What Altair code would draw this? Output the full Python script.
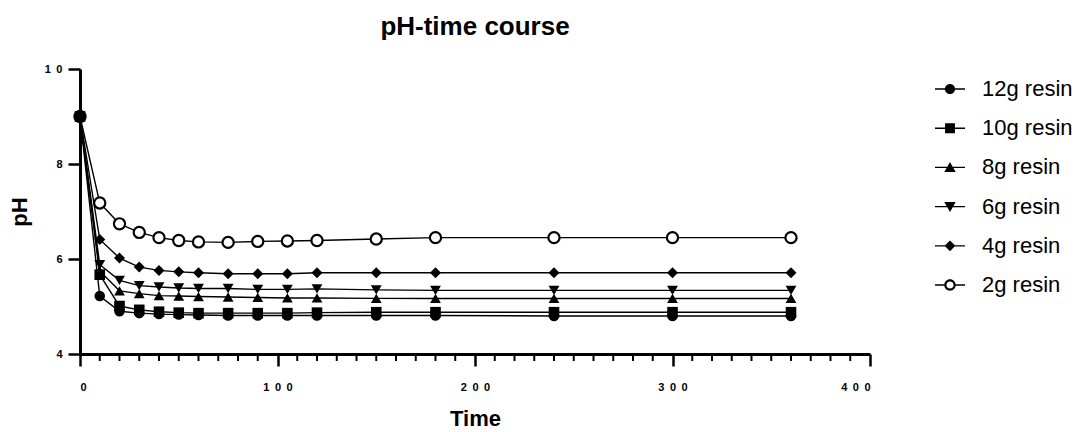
import altair as alt
import pandas as pd

FONT = "Liberation Sans"

time = [0, 10, 20, 30, 40, 50, 60, 75, 90, 105, 120, 150, 180, 240, 300, 360]
series_names = ["12g resin", "10g resin", "8g resin", "6g resin", "4g resin", "2g resin"]

ph_12g = [9.0, 5.22, 4.90, 4.86, 4.84, 4.83, 4.82, 4.81, 4.81, 4.81, 4.81, 4.81, 4.81, 4.80, 4.80, 4.80]
ph_10g = [9.0, 5.67, 5.01, 4.93, 4.89, 4.87, 4.86, 4.86, 4.86, 4.86, 4.87, 4.88, 4.88, 4.88, 4.88, 4.88]
ph_8g = [9.0, 5.75, 5.33, 5.27, 5.23, 5.22, 5.21, 5.20, 5.19, 5.18, 5.18, 5.17, 5.17, 5.17, 5.17, 5.17]
ph_6g = [9.0, 5.88, 5.55, 5.44, 5.41, 5.39, 5.38, 5.38, 5.36, 5.36, 5.37, 5.35, 5.34, 5.34, 5.34, 5.34]
ph_4g = [9.0, 6.41, 6.02, 5.83, 5.76, 5.73, 5.71, 5.69, 5.69, 5.69, 5.71, 5.71, 5.71, 5.71, 5.71, 5.71]
ph_2g = [9.0, 7.18, 6.74, 6.56, 6.45, 6.39, 6.36, 6.35, 6.37, 6.38, 6.39, 6.42, 6.45, 6.45, 6.45, 6.45]

x_major_ticks = [0, 100, 200, 300, 400]
x_minor_ticks = [v for v in range(10, 400, 10) if v % 100 != 0]
y_ticks = [4, 6, 8, 10]
y_min = 4
minor_tick_end = 3.853  # minor tick length expressed in pH units below the axis

# marker styles for the filled series
filled_names = ["12g resin", "10g resin", "8g resin", "6g resin", "4g resin"]
filled_shapes = ["circle", "square", "triangle-up", "triangle-down", "diamond"]
filled_sizes = [110, 120, 170, 170, 120]

# legend symbols: line segment + marker, in the [-1, 1] box
seg = "M-1,-0.045H1V0.045H-1Z"
legend_paths = [
    seg + "M0.34,0A0.34,0.34 0 1,1 -0.34,0A0.34,0.34 0 1,1 0.34,0Z",
    seg + "M-0.33,-0.33H0.33V0.33H-0.33Z",
    seg + "M0,-0.36L0.38,0.3L-0.38,0.3Z",
    seg + "M-0.38,-0.3L0.38,-0.3L0,0.36Z",
    seg + "M0,-0.36L0.36,0L0,0.36L-0.36,0Z",
    "M-1,-0.045H-0.34V0.045H-1Z M0.34,-0.045H1V0.045H0.34Z"
    "M0.38,0A0.38,0.38 0 1,1 -0.38,0A0.38,0.38 0 1,1 0.38,0Z"
    "M0.24,0A0.24,0.24 0 1,0 -0.24,0A0.24,0.24 0 1,0 0.24,0Z",
]

rows = []
for name, vals in zip(series_names, [ph_12g, ph_10g, ph_8g, ph_6g, ph_4g, ph_2g]):
    for t, v in zip(time, vals):
        rows.append({"series": name, "time": t, "pH": v})
df = pd.DataFrame(rows)
minor_df = pd.DataFrame({"time": x_minor_ticks, "lo": y_min, "hi": minor_tick_end})

spaced = "join(split(datum.label, ''), '\u2002')"

x_scale = alt.Scale(domain=[0, 400], nice=False, zero=False)
y_scale = alt.Scale(domain=[4, 10], nice=False, zero=False)

y_axis = alt.Axis(
    values=y_ticks, tickSize=12, tickWidth=2.5, domainWidth=3,
    domainColor="black", tickColor="black", labelColor="black", labelFont=FONT,
    labelFontSize=11, labelFontWeight="bold", labelPadding=6, labelExpr=spaced,
    grid=False, title="pH", titleFont=FONT, titleFontSize=22, titleFontWeight="bold",
    titleColor="black", titlePadding=13,
)

x_axis = alt.Axis(
    values=x_major_ticks, tickSize=12, tickWidth=2.5,
    domainWidth=3, domainColor="black", tickColor="black", labelColor="black",
    labelFont=FONT, labelFontSize=11, labelFontWeight="bold", labelPadding=15,
    labelExpr=spaced, grid=False, title="Time", titleFont=FONT, titleFontSize=22,
    titleFontWeight="bold", titleColor="black", titlePadding=16,
)

base = alt.Chart(df)
enc_x = alt.X("time:Q", scale=x_scale, axis=x_axis)
enc_y = alt.Y("pH:Q", scale=y_scale, axis=y_axis)

minor_ticks = alt.Chart(minor_df).mark_rule(color="black", strokeWidth=2).encode(
    x=enc_x,
    y=alt.Y("lo:Q", scale=y_scale, axis=y_axis),
    y2="hi:Q",
)

lines = base.mark_line(color="black", strokeWidth=1.4).encode(
    x=enc_x, y=enc_y, detail="series:N",
)

open_points = base.transform_filter("datum.series == '2g resin'").mark_point(
    shape="circle", size=125, filled=False, fill="white", stroke="black",
    strokeWidth=2.2, opacity=1,
).encode(x=enc_x, y=enc_y)

filled_points = base.transform_filter("datum.series != '2g resin'").mark_point(
    filled=True, color="black", opacity=1, strokeWidth=0,
).encode(
    x=enc_x,
    y=enc_y,
    shape=alt.Shape("series:N", scale=alt.Scale(domain=filled_names, range=filled_shapes), legend=None),
    size=alt.Size("series:N", scale=alt.Scale(domain=filled_names, range=filled_sizes), legend=None),
)

legend_layer = base.transform_filter("datum.series == 'none'").mark_point(
    filled=True, color="black", opacity=1
).encode(
    shape=alt.Shape(
        "series:N",
        scale=alt.Scale(domain=series_names, range=legend_paths),
        legend=alt.Legend(
            orient="none", legendX=855, legendY=5, title=None,
            labelFont=FONT, labelFontSize=22, labelColor="black", labelOffset=17,
            symbolSize=900, symbolFillColor="black", symbolStrokeWidth=0,
            symbolOpacity=1, rowPadding=13.2,
        ),
    ),
)

chart = (
    alt.layer(minor_ticks, lines, open_points, filled_points, legend_layer)
    .resolve_scale(shape="independent", size="independent")
    .properties(
        width=790,
        height=285,
        padding={"left": 80, "top": 69, "right": 216, "bottom": 78},
        autosize=alt.AutoSizeParams(type="none"),
        title=alt.TitleParams(
            "pH-time course", font=FONT, fontSize=26, fontWeight="bold", color="black",
            anchor="middle", frame="group", baseline="alphabetic", offset=2,
        ),
    )
    .configure_view(strokeWidth=0)
)

chart.save("out.html", embed_options={"renderer": "svg", "actions": False})
